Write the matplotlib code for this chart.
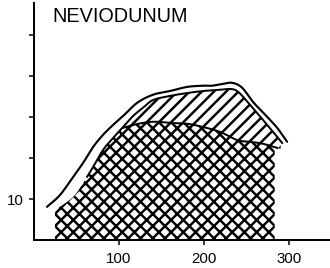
import numpy as np
import matplotlib
matplotlib.use("Agg")
import matplotlib.pyplot as plt

# ---- data ----
title = "NEVIODUNUM"

outer_x = [15.3, 30.6, 45.9, 57.6, 69.4, 81.2, 92.9, 104.7, 121.2, 140, 160, 180,
           198.8, 209.4, 221.2, 232.9, 244.7, 257.6, 274.1, 285.9, 297.6]
outer_y = [8.1, 11.0, 15.4, 18.8, 22.7, 25.7, 28.1, 30.3, 33.5, 35.5, 36.4, 37.4,
           37.7, 37.7, 38.1, 38.4, 37.2, 33.7, 30.1, 27.4, 24.0]

inner_x = [24.7, 45.9, 57.6, 69.4, 81.2, 92.9, 104.7, 116.5, 128.2, 140, 160, 180,
           198.8, 218.8, 230.6, 240, 254.1, 269.4, 285.9, 291.8]
inner_y = [7.3, 10.5, 13.9, 17.8, 22.0, 24.9, 27.6, 30.3, 32.3, 34.2, 35.2, 35.9,
           36.4, 36.7, 36.9, 36.2, 33.0, 29.3, 25.2, 23.7]

cross_x = [104.7, 116.5, 128.2, 142.4, 160, 180, 198.8, 218.8, 238.8, 254.1, 269.4, 285.9, 291.8]
cross_y = [27.4, 28.1, 28.6, 28.9, 28.6, 28.4, 27.6, 26.4, 24.4, 24.0, 23.5, 22.5, 22.2]

cross_end = 283.0
hatch_end = 290.0

xticks = [100, 200, 300]
yticks = [10, 20, 30, 40, 50]
ytick_labels = ["10", "", "", "", ""]


def smooth(x, y, n=12):
    """Catmull-Rom curve through the read points."""
    x = np.asarray(x, float); y = np.asarray(y, float)
    px = np.concatenate([[2 * x[0] - x[1]], x, [2 * x[-1] - x[-2]]])
    py = np.concatenate([[2 * y[0] - y[1]], y, [2 * y[-1] - y[-2]]])
    t = np.linspace(0, 1, n, endpoint=False)
    outx, outy = [], []
    for i in range(1, len(px) - 2):
        for arr, out in ((px, outx), (py, outy)):
            p0, p1, p2, p3 = arr[i - 1], arr[i], arr[i + 1], arr[i + 2]
            out.extend(0.5 * (2 * p1 + (-p0 + p2) * t + (2 * p0 - 5 * p1 + 4 * p2 - p3) * t ** 2
                              + (-p0 + 3 * p1 - 3 * p2 + p3) * t ** 3))
    outx.append(x[-1]); outy.append(y[-1])
    return np.array(outx), np.array(outy)


DPI = 110
plt.rcParams['font.family'] = ['Liberation Sans', 'DejaVu Sans']
plt.rcParams['hatch.linewidth'] = 1.6

fig = plt.figure(figsize=(330 / DPI, 268 / DPI), dpi=DPI)
ax = fig.add_axes([34 / 330, 28 / 268, 296 / 330, 237 / 268])

ox, oy = smooth(outer_x, outer_y)
ix, iy = smooth(inner_x, inner_y)
cx, cy = smooth(cross_x, cross_y)

# lower (crosshatched) region
xs = np.linspace(ix[0], cross_end, 500)
top_lower = np.where(xs <= cx[0], np.interp(xs, ix, iy), np.interp(xs, cx, cy))
ax.fill_between(xs, 0, top_lower, facecolor='white', edgecolor='black',
                hatch='xxx', linewidth=0)

# diagonal hatched band
xs2 = np.linspace(cx[0], hatch_end, 400)
ax.fill_between(xs2, np.interp(xs2, cx, cy), np.interp(xs2, ix, iy),
                facecolor='white', edgecolor='black', hatch='///', linewidth=0)

# lines
ax.plot(ox, oy, color='black', lw=1.4, solid_capstyle='round')
m = ix >= 62
ax.plot(ix[m], iy[m], color='black', lw=1.3)
mc = cx <= cross_end + 3
ax.plot(cx[mc], cy[mc], color='black', lw=1.3)

ax.set_xlim(0, 348)
ax.set_ylim(0, 57.9)
ax.set_xticks(xticks)
ax.set_yticks(yticks)
ax.set_yticklabels(ytick_labels)
for s in ['top', 'right']:
    ax.spines[s].set_visible(False)
for s in ['left', 'bottom']:
    ax.spines[s].set_linewidth(1.3)
ax.tick_params(axis='both', direction='out', length=3.0, width=1.0,
               labelsize=9.8, pad=3.5)
ax.tick_params(axis='x', pad=5)

fig.text(52 / 330, (268 - 22) / 268, title, fontsize=13, ha='left', va='baseline')

fig.savefig("out.png", dpi=DPI)
